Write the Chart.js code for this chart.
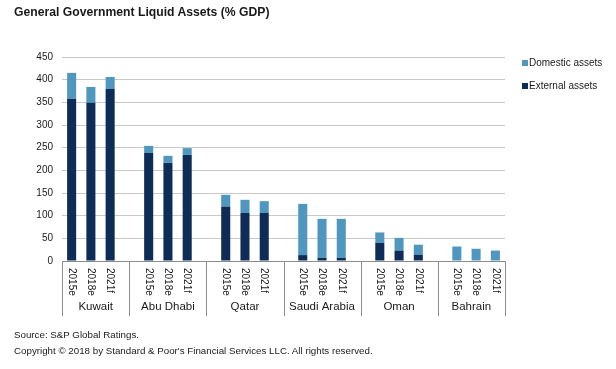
<!DOCTYPE html>
<html>
<head>
<meta charset="utf-8">
<script src="https://cdn.jsdelivr.net/npm/chart.js@4/dist/chart.umd.min.js"></script>
<style>
  html, body { margin: 0; padding: 0; background: #fff; }
  #wrap { position: relative; width: 616px; height: 369px; overflow: hidden; }
  #c { position: absolute; left: 0; top: 0; }
  .txt { position: absolute; font-family: "Liberation Sans", Arial, sans-serif; color: #1a1a1a; white-space: nowrap; }
  #title { left: 14px; top: 5px; font-size: 12.2px; font-weight: bold; }
  #src { left: 14px; top: 329px; font-size: 9.75px; }
  #copy { left: 14px; top: 345px; font-size: 9.75px; }
</style>
</head>
<body>
<div id="wrap">
  <canvas id="c" width="616" height="369"></canvas>
  <div class="txt" id="title">General Government Liquid Assets (% GDP)</div>
  <div class="txt" id="src">Source: S&amp;P Global Ratings.</div>
  <div class="txt" id="copy">Copyright © 2018 by Standard &amp; Poor's Financial Services LLC. All rights reserved.</div>
</div>
<script>
const groups = ["Kuwait", "Abu Dhabi", "Qatar", "Saudi Arabia", "Oman", "Bahrain"];
const years = ["2015e", "2018e", "2021f"];
// values per group, per year
const externalAssets = [
  [358, 349, 380],
  [238, 217, 234],
  [120, 106, 106],
  [13, 7, 7],
  [40, 23, 14],
  [0, 0, 0]
];
const domesticAssets = [
  [57, 35, 26],
  [16, 15, 15],
  [26, 29, 26],
  [113, 86, 86],
  [23, 28, 22],
  [32, 27, 23]
];
const yTicks = [0, 50, 100, 150, 200, 250, 300, 350, 400, 450];

const DARK = "#0d2c57";
const LIGHT = "#4f97bf";

// Build category slots: 3 bars per group plus an empty spacer slot between groups
const labels = [], extData = [], domData = [];
groups.forEach((g, gi) => {
  years.forEach((y, yi) => {
    labels.push(y);
    extData.push(externalAssets[gi][yi]);
    domData.push(domesticAssets[gi][yi]);
  });
  if (gi < groups.length - 1) {
    labels.push("");
    extData.push(null);
    domData.push(null);
  }
});

const font = '"Liberation Sans", Arial, sans-serif';

const overlay = {
  id: 'overlay',
  afterDraw(chart) {
    const ctx = chart.ctx;
    const xs = chart.scales.x;
    const area = chart.chartArea;
    const n = labels.length;
    const slot = (area.right - area.left) / n;
    ctx.save();
    // category box lines
    ctx.strokeStyle = "#8c8c8c";
    ctx.lineWidth = 1;
    const yTop = Math.round(area.bottom) + 0.5;
    const yBot = 316;
    const bounds = [0];
    for (let i = 0; i < n; i++) if (labels[i] === "") bounds.push(i + 0.5);
    bounds.push(n);
    bounds.forEach(b => {
      const x = Math.round(area.left + b * slot) + 0.5;
      ctx.beginPath(); ctx.moveTo(x, yTop); ctx.lineTo(x, yBot); ctx.stroke();
    });
    // year labels rotated (reading downward)
    ctx.fillStyle = "#1a1a1a";
    ctx.font = "10px " + font;
    ctx.textBaseline = "middle";
    ctx.textAlign = "left";
    for (let i = 0; i < n; i++) {
      if (!labels[i]) continue;
      const x = xs.getPixelForValue(i);
      ctx.save();
      ctx.translate(x, area.bottom + 7);
      ctx.rotate(Math.PI / 2);
      ctx.fillText(labels[i], 0, 0);
      ctx.restore();
    }
    // group labels
    ctx.textAlign = "center";
    ctx.font = "11.5px " + font;
    for (let g = 0; g < groups.length; g++) {
      const x0 = area.left + bounds[g] * slot;
      const x1 = area.left + bounds[g + 1] * slot;
      ctx.fillText(groups[g], (x0 + x1) / 2, 307);
    }
    // legend (Domestic on top, External below)
    const items = [chart.data.datasets[1], chart.data.datasets[0]];
    ctx.textAlign = "left";
    ctx.font = "10px " + font;
    items.forEach((ds, k) => {
      const cy = 63 + k * 23;
      ctx.fillStyle = ds.backgroundColor;
      ctx.fillRect(522, cy - 3, 6, 6);
      ctx.fillStyle = "#1a1a1a";
      ctx.fillText(ds.label, 529, cy);
    });
    ctx.restore();
  }
};

new Chart(document.getElementById('c'), {
  type: 'bar',
  data: {
    labels: labels,
    datasets: [
      { label: "External assets", data: extData, backgroundColor: DARK, barPercentage: 0.47, categoryPercentage: 1.0 },
      { label: "Domestic assets", data: domData, backgroundColor: LIGHT, barPercentage: 0.47, categoryPercentage: 1.0 }
    ]
  },
  options: {
    responsive: false,
    animation: false,
    layout: { padding: { left: 0, right: 111, top: 57, bottom: 108 } },
    plugins: { legend: { display: false }, tooltip: { enabled: false }, title: { display: false } },
    scales: {
      x: {
        stacked: true,
        ticks: { display: false },
        grid: { display: false, drawTicks: false },
        border: { display: true, color: "#8c8c8c" },
        afterFit: s => { s.height = 0; }
      },
      y: {
        stacked: true,
        min: 0, max: 450,
        afterBuildTicks: s => { s.ticks = yTicks.map(v => ({ value: v })); },
        ticks: { color: "#1a1a1a", font: { family: font, size: 10 }, padding: 9 },
        grid: { color: "#c8c8c8", drawTicks: false },
        border: { display: false },
        afterFit: s => { s.width = 62; }
      }
    }
  },
  plugins: [overlay]
});
</script>
</body>
</html>
